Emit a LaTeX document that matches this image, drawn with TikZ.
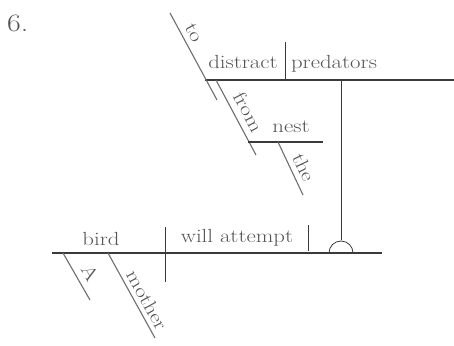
\documentclass[tikz,border=0pt]{standalone}
\usepackage{fontspec}
\setmainfont{Latin Modern Roman}[FakeStretch=1.2]
\definecolor{txt}{HTML}{555555}
\definecolor{ln}{HTML}{3A3A3A}
\definecolor{sl}{HTML}{6E6E6E}
\tikzset{
  word/.style={text=txt, font=\fontsize{19}{23}\selectfont, inner sep=0pt, anchor=base},
  slword/.style={text=txt, font=\fontsize{19}{23}\selectfont, inner sep=0pt, anchor=south},
  mainline/.style={draw=ln, line width=1.1pt},
  slline/.style={draw=sl, line width=1.1pt},
  thin/.style={draw=ln, line width=0.8pt}
}
\begin{document}
\begin{tikzpicture}[x=1pt,y=-1pt]
\useasboundingbox (0,0) rectangle (454,345);
% number
\node[text=txt, font=\fontsize{25}{30}\selectfont, inner sep=0pt, anchor=base west] (num) at (7,32) {6.};
% coordinates
\coordinate (toA) at (170,13);
\coordinate (toB) at (217,100);
\coordinate (topL) at (205,80);
\coordinate (topR) at (454,80);
\coordinate (divT) at (285,42);
\coordinate (divB) at (285,80);
\coordinate (stilT) at (341,80);
\coordinate (stilB) at (341,240);
\coordinate (fromA) at (216,80);
\coordinate (fromB) at (256,155);
\coordinate (nestL) at (248,142);
\coordinate (nestR) at (323,142);
\coordinate (theA) at (278,142);
\coordinate (theB) at (303,195);
\coordinate (baseL) at (52,253);
\coordinate (baseR) at (382,253);
\coordinate (bdT) at (165,227);
\coordinate (bdB) at (165,282);
\coordinate (tkT) at (308,225);
\coordinate (tkB) at (308,251);
\coordinate (aA) at (63,253);
\coordinate (aB) at (90,300);
\coordinate (mA) at (108,253);
\coordinate (mB) at (155,338);
\coordinate (pedL) at (329,253);
% lines
\draw[mainline] (topL) -- (topR);
\draw[thin] (divT) -- (divB);
\draw[thin] (stilT) -- (stilB);
\draw[slline] (toA) -- (toB);
\draw[slline] (fromA) -- (fromB);
\draw[mainline] (nestL) -- (nestR);
\draw[slline] (theA) -- (theB);
\draw[mainline] (baseL) -- (baseR);
\draw[thin] (bdT) -- (bdB);
\draw[thin] (tkT) -- (tkB);
\draw[slline] (aA) -- (aB);
\draw[slline] (mA) -- (mB);
\draw[thin] (pedL) arc[start angle=180, end angle=360, radius=12];
% words
\node[word] (distract) at (243,68) {distract};
\node[word] (predators) at (334,68) {predators};
\node[word] (nest) at (291,132) {nest};
\node[word] (bird) at (101,245) {bird};
\node[word] (will) at (237,242) {will attempt};
\node[slword, rotate=-61.6] (to) at (188.4,35.6) {to};
\node[slword, rotate=-61.9] (from) at (242.1,115.2) {from};
\node[slword, rotate=-64.7] (the) at (297.5,170.3) {the};
\node[slword, rotate=-60.1] (a) at (84.1,276.6) {A};
\node[slword, rotate=-61.1] (mother) at (141.1,303.4) {mother};
\end{tikzpicture}
\end{document}
